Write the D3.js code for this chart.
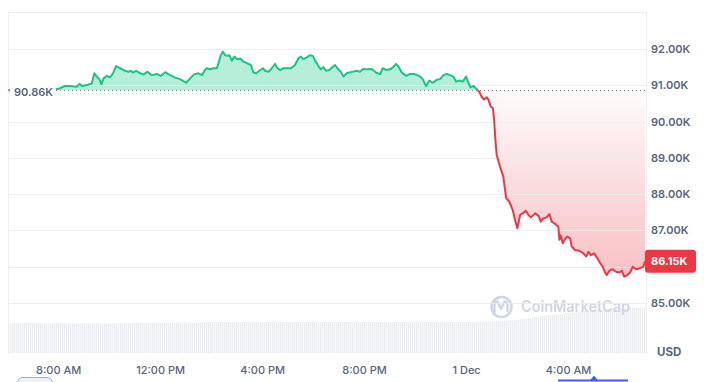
<!DOCTYPE html>
<html><head><meta charset="utf-8">
<script src="https://cdn.jsdelivr.net/npm/d3@7"></script>
<style>
html,body{margin:0;padding:0;background:#fff;}
svg{display:block;font-family:Inter,"Noto Sans",sans-serif;}
</style></head>
<body>
<svg id="chart" width="704" height="382"></svg>
<script>
// ---- data ----
// hours since 30 Nov 00:00 (values > 24 are on 1 Dec)
const hours = [6.04,6.51,7.10,7.61,7.92,8.08,8.27,8.47,8.73,8.84,
8.93,9.13,9.32,9.42,9.52,9.62,9.70,9.78,9.91,10.04,
10.15,10.27,10.43,10.63,10.76,10.85,10.93,11.06,11.22,11.35,
11.50,11.67,11.87,12.03,12.20,12.39,12.59,12.78,13.02,13.18,
13.33,13.50,13.64,13.76,13.83,13.96,14.09,14.22,14.29,14.38,
14.46,14.55,14.64,14.72,14.81,14.91,15.03,15.14,15.27,15.40,
15.56,15.66,15.76,15.89,16.03,16.12,16.25,16.38,16.51,16.60,
16.71,16.84,16.99,17.13,17.29,17.42,17.52,17.62,17.75,17.88,
17.99,18.08,18.21,18.30,18.40,18.51,18.64,18.77,18.86,18.95,
19.09,19.19,19.32,19.52,19.71,19.84,19.95,20.11,20.30,20.47,
20.63,20.73,20.89,21.05,21.15,21.25,21.35,21.48,21.65,21.78,
21.96,22.09,22.20,22.30,22.43,22.56,22.69,22.85,22.98,23.11,
23.24,23.37,23.50,23.61,23.74,23.87,24.00,24.09,24.18,24.29,
24.42,24.52,24.62,24.71,24.81,24.87,24.97,25.05,25.10,25.15,
25.20,25.33,25.46,25.57,25.70,25.83,25.92,26.01,26.12,26.22,
26.35,26.44,26.54,26.71,26.84,26.93,27.03,27.16,27.27,27.36,
27.49,27.62,27.66,27.71,27.79,27.88,27.97,28.08,28.14,28.27,
28.44,28.60,28.71,28.80,28.89,29.02,29.15,29.25,29.36,29.45,
29.52,29.62,29.75,29.88,30.01,30.11,30.20,30.33,30.43,30.54,
30.67,30.82,30.95,31.02];
// price in thousands of USD
const prices = [90.86,90.88,90.90,90.88,90.89,90.92,90.98,90.98,90.96,91.04,
90.98,91.01,91.05,91.33,91.24,91.17,91.03,91.19,91.26,91.22,
91.33,91.53,91.47,91.40,91.37,91.40,91.35,91.40,91.33,91.30,
91.37,91.28,91.31,91.26,91.36,91.28,91.21,91.17,91.07,91.19,
91.30,91.33,91.28,91.42,91.47,91.44,91.47,91.47,91.61,91.83,
91.93,91.83,91.81,91.83,91.68,91.79,91.72,91.74,91.65,91.61,
91.56,91.35,91.33,91.40,91.47,91.40,91.37,91.47,91.59,91.47,
91.42,91.47,91.47,91.47,91.56,91.74,91.79,91.72,91.77,91.83,
91.81,91.68,91.53,91.44,91.50,91.40,91.42,91.51,91.56,91.47,
91.37,91.24,91.33,91.37,91.40,91.37,91.45,91.44,91.45,91.35,
91.31,91.47,91.42,91.45,91.51,91.59,91.51,91.35,91.26,91.31,
91.31,91.28,91.24,91.17,90.98,91.13,91.07,91.15,91.17,91.28,
91.31,91.28,91.24,91.10,91.13,91.10,91.24,91.07,90.94,90.98,
90.89,90.82,90.67,90.61,90.67,90.61,90.41,90.37,90.04,89.49,
89.08,88.76,88.48,87.89,87.79,87.56,87.29,87.06,87.43,87.47,
87.54,87.43,87.36,87.47,87.40,87.24,87.33,87.36,87.45,87.24,
87.18,87.10,86.74,86.87,86.65,86.76,86.83,86.78,86.57,86.46,
86.44,86.37,86.28,86.41,86.32,86.37,86.23,86.11,86.00,85.84,
85.77,85.89,85.93,85.86,85.84,85.89,85.73,85.77,85.84,86.00,
85.93,85.96,86.00,86.15];
const basePrice = 90.86;
// volume bars (relative units), one every 15 minutes from 06:00
const volStartHour = 6;
const volStepHours = 0.25;
const volumes = [30.2,30.0,29.8,30.1,30.0,29.9,29.7,29.8,30.0,29.9,
29.6,29.5,29.6,29.8,29.7,29.5,29.6,29.7,29.8,29.9,
30.0,30.1,30.0,30.2,30.3,30.3,30.4,30.5,30.6,30.6,
30.7,30.8,30.9,
31.0,31.1,31.2,31.1,31.0,31.2,31.3,31.1,31.0,30.9,
31.0,31.1,31.2,31.1,31.0,30.9,30.8,30.9,31.0,31.1,
31.0,30.9,30.8,30.9,31.0,31.1,31.2,31.1,31.0,30.9,
30.8,30.9,31.0,31.1,31.2,31.3,31.2,31.1,31.0,31.1,
31.2,31.4,31.6,31.8,32.0,32.3,32.6,
33.2,34.0,35.0,36.0,37.0,37.8,38.4,39.0,39.8,40.6,
41.5,42.2,42.8,43.3,43.8,44.2,44.6,45.0,45.3,45.6,45.8];
const yTicks = [85,86,87,88,89,90,91,92];
const xTickHours = [8,12,16,20,24,28];
const xTickLabels = ["8:00 AM","12:00 PM","4:00 PM","8:00 PM","1 Dec","4:00 AM"];

// ---- chart ----
const baseDate = new Date(2024,10,30,0,0,0);
const toDate = h => new Date(baseDate.getTime() + h*3600000);
const data = hours.map((h,i)=>({t:toDate(h), p:prices[i]}));

const svg = d3.select("#chart");
const pL = 8, pR = 645, pT = 12, pB = 354;
const x = d3.scaleTime().domain([new Date(2024,10,30,6,2), new Date(2024,11,1,7,1)]).range([pL,pR]);
const y = d3.scaleLinear().domain([85,92]).range([303,49]);
const yv = d3.scaleLinear().domain([0,60]).range([353,293]);
const yb = y(basePrice);
const last = prices[prices.length-1];

const defs = svg.append("defs");
defs.append("clipPath").attr("id","plot").append("rect")
  .attr("x",pL).attr("y",pT).attr("width",pR-pL+1).attr("height",pB-pT);
defs.append("clipPath").attr("id","above").append("rect")
  .attr("x",0).attr("y",0).attr("width",704).attr("height",yb);
defs.append("clipPath").attr("id","below").append("rect")
  .attr("x",0).attr("y",yb).attr("width",704).attr("height",382-yb);
const rg = defs.append("linearGradient").attr("id","redg")
  .attr("gradientUnits","userSpaceOnUse").attr("x1",0).attr("x2",0)
  .attr("y1",yb).attr("y2",y(d3.min(prices)));
rg.append("stop").attr("offset",0).attr("stop-color","#ea3943").attr("stop-opacity",0.02);
rg.append("stop").attr("offset",1).attr("stop-color","#ea3943").attr("stop-opacity",0.32);
const pat = defs.append("pattern").attr("id","stripes").attr("patternUnits","userSpaceOnUse")
  .attr("width",2).attr("height",4);
pat.append("rect").attr("x",0).attr("y",0).attr("width",1).attr("height",4).attr("fill","#e9ecf0");
pat.append("rect").attr("x",1).attr("y",0).attr("width",1).attr("height",4).attr("fill","#f7f8fa");

// volume bars
const stepPx = x(toDate(volStartHour+volStepHours)) - x(toDate(volStartHour));
svg.append("g").attr("clip-path","url(#plot)")
  .selectAll("rect").data(volumes).join("rect")
  .attr("x",(d,i)=>x(toDate(volStartHour+i*volStepHours)) - stepPx/2)
  .attr("width",stepPx)
  .attr("y",d=>yv(d)).attr("height",d=>yv(0)-yv(d))
  .attr("fill","url(#stripes)");

// watermark
const wm = svg.append("g").attr("fill","none").attr("stroke","#cfd6e4");
wm.append("circle").attr("cx",501.5).attr("cy",307).attr("r",10).attr("stroke-width",2.6);
wm.append("path").attr("d","M494.5,312 L494.5,305 Q494.5,301 497.5,301.5 L501,309 L504.5,301.5 Q507.5,301 507.5,305 L507.5,311")
  .attr("stroke-width",2.4).attr("stroke-linecap","round").attr("stroke-linejoin","round");
svg.append("text").attr("x",521).attr("y",307).attr("dy","0.35em")
  .attr("font-size",15.5).attr("font-weight",600).attr("fill","#cfd6e4")
  .attr("textLength",109).attr("lengthAdjust","spacingAndGlyphs")
  .text("CoinMarketCap");

// areas
const area = d3.area().x(d=>x(d.t)).y0(yb).y1(d=>y(d.p));
svg.append("path").datum(data).attr("clip-path","url(#above)")
  .attr("d",area).attr("fill","#16c784").attr("fill-opacity",0.31);
svg.append("path").datum(data).attr("clip-path","url(#below)")
  .attr("d",area).attr("fill","url(#redg)");

// grid + frame
svg.append("g").selectAll("line").data(yTicks).join("line")
  .attr("x1",pL).attr("x2",pR+1)
  .attr("y1",d=>Math.round(y(d))+0.5).attr("y2",d=>Math.round(y(d))+0.5)
  .attr("stroke","#e9ecf0").attr("stroke-opacity",0.85);
const frame = svg.append("g").attr("stroke","#eceff2").attr("fill","none");
frame.append("line").attr("x1",pL).attr("x2",pR+1).attr("y1",pT+0.5).attr("y2",pT+0.5);
frame.append("line").attr("x1",pL+0.5).attr("x2",pL+0.5).attr("y1",pT).attr("y2",pB);
frame.append("line").attr("x1",pR+1.5).attr("x2",pR+1.5).attr("y1",pT).attr("y2",pB);

// baseline dotted
svg.append("line").attr("x1",56).attr("x2",pR).attr("y1",Math.round(yb)+0.5).attr("y2",Math.round(yb)+0.5)
  .attr("stroke","#7d879b").attr("stroke-dasharray","1,3").attr("stroke-width",1);

// price line
const line = d3.line().x(d=>x(d.t)).y(d=>y(d.p));
svg.append("path").datum(data).attr("clip-path","url(#above)")
  .attr("d",line).attr("fill","none").attr("stroke","#16c784").attr("stroke-width",2)
  .attr("stroke-linejoin","round");
svg.append("path").datum(data).attr("clip-path","url(#below)")
  .attr("d",line).attr("fill","none").attr("stroke","#ea3943").attr("stroke-width",2)
  .attr("stroke-linejoin","round");

// base label
svg.append("rect").attr("x",10).attr("y",81).attr("width",46).attr("height",20).attr("fill","#fff");
svg.append("text").attr("x",14).attr("y",yb+1.5).attr("dy","0.35em")
  .attr("font-size",11).attr("font-weight",600).attr("fill","#58667e")
  .text(basePrice.toFixed(2)+"K");

// y axis (labels hidden where the last-price badge sits)
const yLabelTicks = yTicks.filter(v => Math.abs(y(v) - y(last)) > 14);
const ya = svg.append("g").attr("transform","translate(651,0)")
  .call(d3.axisRight(y).tickValues(yLabelTicks).tickSize(0).tickPadding(0).tickFormat(d=>d.toFixed(2)+"K"));
ya.select(".domain").remove();
ya.selectAll("text").attr("font-family","Inter,'Noto Sans',sans-serif").attr("font-size",11)
  .attr("font-weight",600).attr("fill","#58667e");

// last price label
svg.append("rect").attr("x",645).attr("y",y(last)-11.5).attr("width",51).attr("height",23).attr("rx",3)
  .attr("fill","#ea3943");
svg.append("text").attr("x",651).attr("y",y(last)).attr("dy","0.35em")
  .attr("font-size",11).attr("font-weight",700).attr("fill","#fff").text(last.toFixed(2)+"K");

// USD
svg.append("text").attr("x",657).attr("y",352).attr("dy","0.35em")
  .attr("font-size",11.5).attr("font-weight",700).attr("fill","#58667e").text("USD");

// x axis
const xa = svg.append("g").attr("transform","translate(0,370)")
  .call(d3.axisBottom(x).tickValues(xTickHours.map(toDate)).tickSize(0).tickPadding(0)
    .tickFormat((d,i)=>xTickLabels[i]));
xa.select(".domain").remove();
xa.selectAll("text").attr("dy","0.35em").attr("font-family","Inter,'Noto Sans',sans-serif")
  .attr("font-size",11).attr("font-weight",500).attr("fill","#58667e");

// bottom navigator hints
svg.append("rect").attr("x",17).attr("y",377.5).attr("width",36).attr("height",12).attr("rx",6)
  .attr("fill","#eef0f3").attr("stroke","#a6b0c3");
svg.append("line").attr("x1",558).attr("x2",628).attr("y1",380.5).attr("y2",380.5)
  .attr("stroke","#3861fb").attr("stroke-width",2);
svg.append("path").attr("d","M589.5,381 L594,375.5 L598.5,381 Z").attr("fill","#3861fb");
</script>
</body></html>
